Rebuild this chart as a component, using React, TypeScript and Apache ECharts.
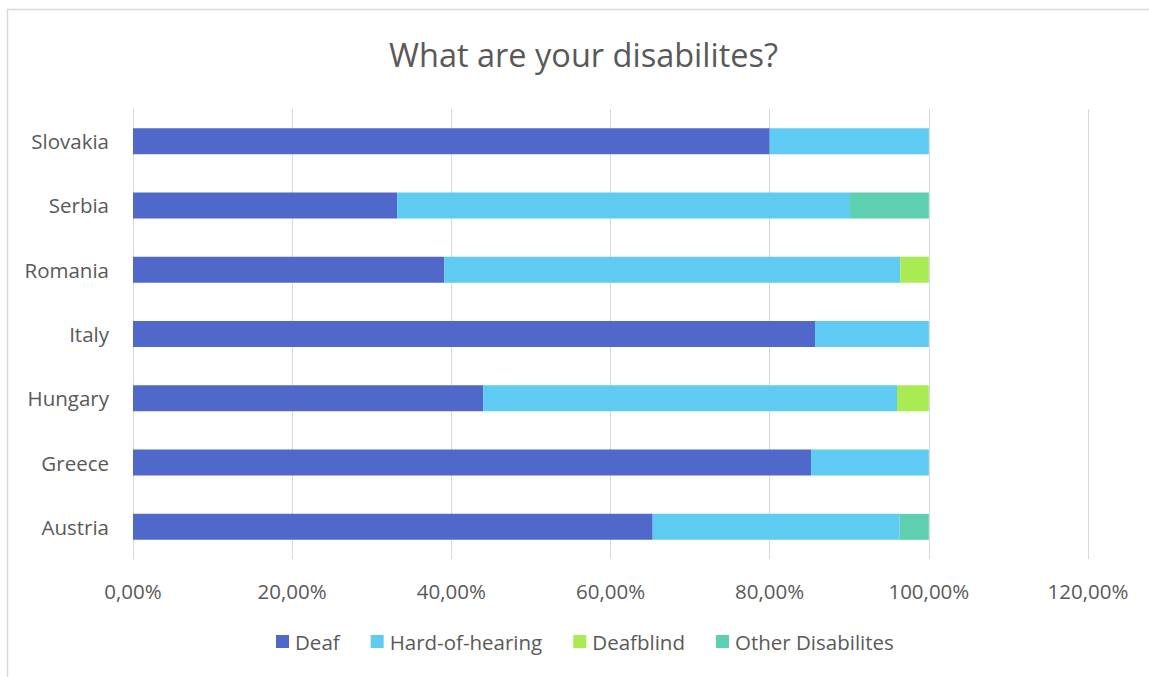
import React, { useEffect, useRef } from "react";
import * as echarts from "echarts";

const categories = ["Austria", "Greece", "Hungary", "Italy", "Romania", "Serbia", "Slovakia"];
const deaf = [65.3, 85.2, 44.0, 85.7, 39.1, 33.2, 80.0];
const hardOfHearing = [31.0, 14.8, 52.0, 14.3, 57.3, 56.9, 20.0];
const deafblind = [0, 0, 4.0, 0, 3.6, 0, 0];
const otherDisabilities = [3.7, 0, 0, 0, 0, 9.9, 0];
const seriesNames = ["Deaf", "Hard-of-hearing", "Deafblind", "Other Disabilites"];
const colors = ["#4F68C9", "#5FCBF3", "#A9EB52", "#5ECFB1"];

export default function App() {
  const ref = useRef<HTMLDivElement>(null);
  useEffect(() => {
    if (!ref.current) return;
    const chart = echarts.init(ref.current, undefined, { renderer: "svg" });
    const font = "'Open Sans', 'Noto Sans', sans-serif";
    const datasets = [deaf, hardOfHearing, deafblind, otherDisabilities];
    chart.setOption({
      animation: false,
      backgroundColor: "#ffffff",
      color: colors,
      title: {
        text: "What are your disabilites?",
        left: 384,
        top: 33,
        textStyle: { fontFamily: font, fontSize: 32.5, fontWeight: "normal", color: "#595959" },
      },
      graphic: [
        {
          type: "rect",
          shape: { x: 7.5, y: 9.5, width: 1160, height: 700 },
          style: { fill: "none", stroke: "#d9d9d9", lineWidth: 1.5 },
          silent: true,
        },
      ],
      grid: { left: 133, right: 61, top: 109, bottom: 118, containLabel: false },
      xAxis: {
        type: "value",
        min: 0,
        max: 120,
        interval: 20,
        axisLine: { show: false },
        axisTick: { show: false },
        splitLine: { lineStyle: { color: "#d9d9d9", width: 1 } },
        axisLabel: {
          fontFamily: font,
          fontSize: 20.5,
          color: "#595959",
          margin: 21,
          formatter: (v: number) => v.toFixed(2).replace(".", ",") + "%",
        },
      },
      yAxis: {
        type: "category",
        data: categories,
        axisLine: { show: true, lineStyle: { color: "#d9d9d9" } },
        axisTick: { show: false },
        axisLabel: { fontFamily: font, fontSize: 20.5, color: "#595959", margin: 24 },
      },
      legend: {
        bottom: 20,
        left: 271,
        itemWidth: 13,
        itemHeight: 13,
        itemGap: 31,
        icon: "rect",
        textStyle: { fontFamily: font, fontSize: 20.5, color: "#595959", padding: [0, 0, 0, 1] },
        data: seriesNames,
      },
      series: seriesNames.map((name, i) => ({
        name,
        type: "bar",
        stack: "total",
        barWidth: 26,
        data: datasets[i],
        itemStyle: { color: colors[i] },
      })),
    });
    return () => chart.dispose();
  }, []);
  return (
    <div
      ref={ref}
      style={{ position: "fixed", left: 0, top: 0, width: 1149, height: 677 }}
    />
  );
}
